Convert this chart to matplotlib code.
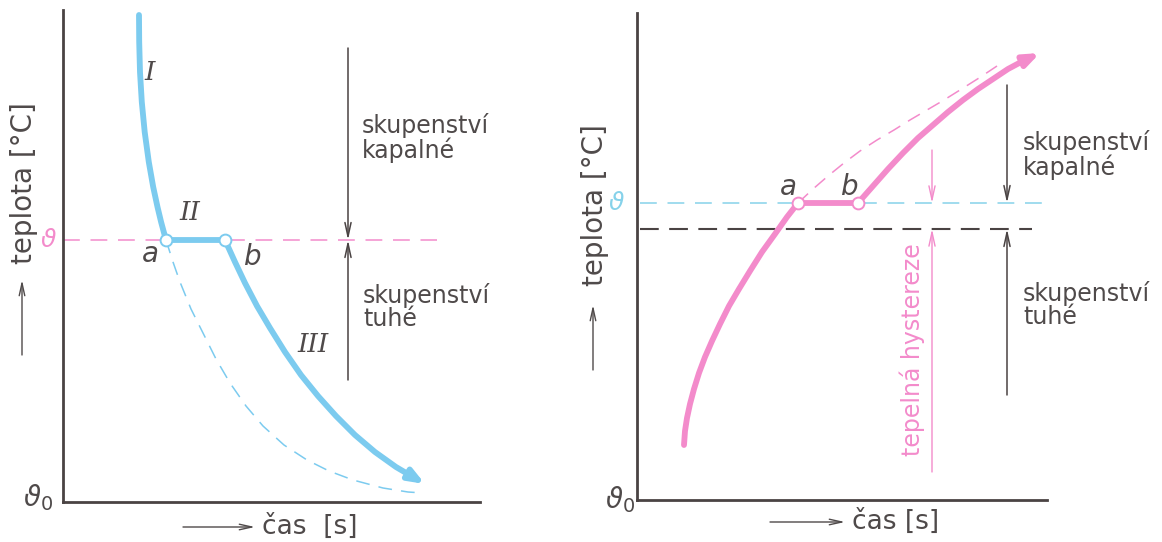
import matplotlib.pyplot as plt

# schematic units: time along x, temperature along y (both arbitrary)

# left panel - cooling of a liquid, solidification at cool_melt
cool_t1 = [76, 76.2, 77, 78.8, 81.7, 85.8, 90.2, 94.5, 98.1, 100.8, 103]
cool_T1 = [487, 460, 430, 400, 370, 340, 315, 295, 280, 270, 262]
cool_t3 = [162, 172, 182, 194, 207, 222, 238, 255, 273, 292, 312, 333, 350, 362]
cool_T3 = [262, 240, 219, 196, 174, 150, 127, 106, 86, 67, 50, 35, 25, 18]
cool_dash_t = [103, 110, 117, 128, 140, 153, 167, 183, 200, 221, 244, 266, 290, 320, 345, 360]
cool_dash_T = [262, 240, 220, 193, 169, 143, 119, 96, 76, 57, 42, 31, 22, 14, 10, 9]
cool_a, cool_b = 103, 162
cool_melt = 262
cool_arrow_x, cool_arrow_top, cool_arrow_bot = 285, 454, 122

# right panel - heating of a solid, melting at heat_melt
heat_t1 = [47, 48, 50, 53, 57, 62, 68, 75, 83, 92, 102, 113, 125, 138, 150, 161]
heat_T1 = [55, 69, 82, 96, 111, 127, 143, 159, 176, 194, 211, 229, 248, 266, 283, 297]
heat_t3 = [221, 236, 251, 266, 281, 296, 311, 326, 341, 356, 371, 386, 403]
heat_T3 = [297, 314, 331, 347, 362, 375, 388, 400, 411, 421, 431, 439, 447]
heat_dash_t = [161, 176, 191, 207, 223, 240, 257, 273, 290, 307, 323, 342, 360]
heat_dash_T = [297, 311, 324, 337, 349, 360, 370, 380, 390, 400, 410, 422, 434]
heat_a, heat_b = 161, 221
heat_melt = 297
heat_solid = 271
hyst_x, hyst_top, hyst_bot = 295, 350, 28
heat_arrow_x, heat_arrow_top, heat_arrow_bot = 370, 415, 105

BLUE = '#7ccbef'
PINK = '#f38bcb'
CYAN = '#86d2ea'
DARK = '#4a4343'
TXT = '#4f4a4a'

W, H = 1162, 542
fig = plt.figure(figsize=(W / 100, H / 100), dpi=100)
fig.patch.set_facecolor('white')


def make_axes(x0, y0, x1, y1):
    # pixel box of the drawn axis lines -> axes in figure fraction
    ax = fig.add_axes([x0 / W, (H - y1) / H, (x1 - x0) / W, (y1 - y0) / H])
    ax.set_xlim(0, x1 - x0)
    ax.set_ylim(0, y1 - y0)
    for s in ['top', 'right']:
        ax.spines[s].set_visible(False)
    for s in ['left', 'bottom']:
        ax.spines[s].set_color(DARK)
        ax.spines[s].set_linewidth(2)
    ax.set_xticks([])
    ax.set_yticks([])
    ax.patch.set_alpha(0)
    return ax


def thin_arrow(ax, p_from, p_to, color=DARK, lw=1.1, hw=0.22, hl=1.0):
    ax.annotate('', xy=p_to, xytext=p_from, annotation_clip=False,
                arrowprops=dict(arrowstyle='->,head_length=%s,head_width=%s' % (hl, hw),
                                color=color, lw=lw, shrinkA=0, shrinkB=0))


def thick_curve(ax, t, T, color):
    ax.plot(t[:-1], T[:-1], color=color, lw=4.2, solid_capstyle='butt',
            solid_joinstyle='round', clip_on=False)
    ax.annotate('', xy=(t[-1], T[-1]), xytext=(t[-2], T[-2]),
                arrowprops=dict(arrowstyle='-|>,head_length=0.9,head_width=0.35',
                                color=color, lw=4.2, shrinkA=0, shrinkB=0))


def axis_labels(ax, ylab_x, ylab_y, yarr, xarr_y, xarr, xlab_x, xlab, zero_xy):
    ax.text(ylab_x, ylab_y, 'teplota [°C]', rotation=90, ha='center', va='center',
            fontsize=20, color=TXT, clip_on=False)
    thin_arrow(ax, (ylab_x - 2, yarr[0]), (ylab_x - 2, yarr[1]), color=TXT, lw=1.0, hw=0.2, hl=0.9)
    thin_arrow(ax, (xarr[0], xarr_y), (xarr[1], xarr_y), color=TXT, lw=1.0, hw=0.2, hl=0.9)
    ax.text(xlab_x, xarr_y, xlab, ha='left', va='center', fontsize=19,
            color=TXT, clip_on=False)
    ax.text(zero_xy[0], zero_xy[1], r'$\vartheta_0$', ha='center', va='center',
            fontsize=20, color=TXT, clip_on=False)


# ---------------- left panel ----------------
ax1 = make_axes(63, 10, 480, 502)

ax1.plot([0, 374], [cool_melt, cool_melt], color=PINK, lw=1.1, dashes=(11, 7))
ax1.plot(cool_dash_t, cool_dash_T, color=BLUE, lw=1.1, dashes=(9, 6))
ax1.plot(cool_t1, cool_T1, color=BLUE, lw=4.2, solid_capstyle='round', solid_joinstyle='round')
ax1.plot([cool_a, cool_b], [cool_melt, cool_melt], color=BLUE, lw=4.2)
thick_curve(ax1, cool_t3, cool_T3, BLUE)
ax1.plot([cool_a, cool_b], [cool_melt, cool_melt], 'o', ms=8.5, mfc='white', mec=BLUE, mew=1.4)

thin_arrow(ax1, (cool_arrow_x, cool_arrow_top), (cool_arrow_x, cool_melt))
thin_arrow(ax1, (cool_arrow_x, cool_arrow_bot), (cool_arrow_x, cool_melt))

ax1.text(299, 364, 'skupenství\nkapalné', fontsize=17, color=TXT, va='center', ha='left',
         linespacing=0.95, clip_on=False)
ax1.text(300, 195, 'skupenství\ntuhé', fontsize=17, color=TXT, va='center', ha='left',
         linespacing=0.95, clip_on=False)

roman = dict(fontsize=19, color=TXT, family='DejaVu Serif', style='italic',
             ha='center', va='center')
ax1.text(87, 430, 'I', **roman)
ax1.text(127, 289, 'II', **roman)
ax1.text(250, 157, 'III', **roman)
ax1.text(87, 248, 'a', fontsize=20, color=TXT, style='italic', ha='center', va='center')
ax1.text(190, 245, 'b', fontsize=20, color=TXT, style='italic', ha='center', va='center')
ax1.text(-15, cool_melt, r'$\vartheta$', fontsize=18, color=PINK, ha='center', va='center',
         clip_on=False)

axis_labels(ax1, -39, 319, (147, 222), -25, (120, 192), 199, 'čas  [s]', (-25, 4))

# ---------------- right panel ----------------
ax2 = make_axes(637, 13, 1047, 500)

ax2.plot([3, 410], [heat_melt, heat_melt], color=CYAN, lw=1.1, dashes=(11, 7))
ax2.plot([3, 395], [heat_solid, heat_solid], color=DARK, lw=1.5, dashes=(9, 5))
ax2.plot(heat_dash_t, heat_dash_T, color=PINK, lw=1.1, dashes=(9, 6))
ax2.plot(heat_t1, heat_T1, color=PINK, lw=4.2, solid_capstyle='round', solid_joinstyle='round')
ax2.plot([heat_a, heat_b], [heat_melt, heat_melt], color=PINK, lw=4.2)
thick_curve(ax2, heat_t3, heat_T3, PINK)
ax2.plot([heat_a, heat_b], [heat_melt, heat_melt], 'o', ms=8.5, mfc='white', mec=PINK, mew=1.4)

thin_arrow(ax2, (hyst_x, hyst_top), (hyst_x, heat_melt), color=PINK, lw=1.0)
thin_arrow(ax2, (hyst_x, hyst_bot), (hyst_x, heat_solid), color=PINK, lw=1.0)
ax2.text(hyst_x - 20, 150, 'tepelná hystereze', rotation=90, fontsize=17, color=PINK,
         ha='center', va='center')

thin_arrow(ax2, (heat_arrow_x, heat_arrow_top), (heat_arrow_x, heat_melt))
thin_arrow(ax2, (heat_arrow_x, heat_arrow_bot), (heat_arrow_x, heat_solid))

ax2.text(386, 345, 'skupenství\nkapalné', fontsize=17, color=TXT, va='center', ha='left',
         linespacing=0.95, clip_on=False)
ax2.text(386, 195, 'skupenství\ntuhé', fontsize=17, color=TXT, va='center', ha='left',
         linespacing=0.95, clip_on=False)

ax2.text(151, 313, 'a', fontsize=20, color=TXT, style='italic', ha='center', va='center')
ax2.text(213, 313, 'b', fontsize=20, color=TXT, style='italic', ha='center', va='center')
ax2.text(-21, heat_melt, r'$\vartheta$', fontsize=18, color=CYAN, ha='center', va='center',
         clip_on=False)

axis_labels(ax2, -42, 295, (130, 195), -22, (133, 208), 215, 'čas [s]', (-17, 0))

fig.savefig('out.png', dpi=100, facecolor='white')
